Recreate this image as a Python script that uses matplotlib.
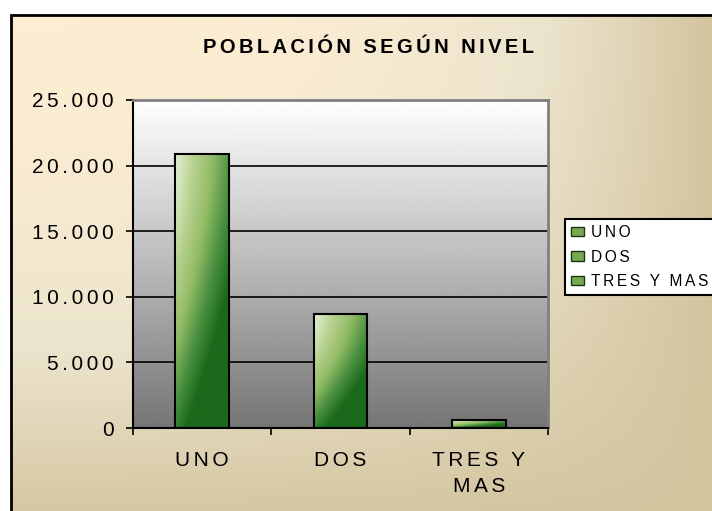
import numpy as np
import matplotlib
matplotlib.use("Agg")
import matplotlib.pyplot as plt
from matplotlib.colors import LinearSegmentedColormap
from matplotlib.patches import Rectangle, Patch
from matplotlib.ticker import FuncFormatter, FixedLocator

categories = ["UNO", "DOS", "TRES Y\nMAS"]
legend_labels = ["UNO", "DOS", "TRES Y MAS"]
values = [20900, 8700, 600]
y_ticks = [0, 5000, 10000, 15000, 20000, 25000]
title = "POBLACIÓN SEGÚN NIVEL"

plt.rcParams['font.family'] = ['Liberation Sans', 'DejaVu Sans']

GAP = '\u2006'


def spaced(s):
    # wide letter spacing like the original chart
    return '\n'.join(GAP.join(line) for line in s.split('\n'))


W, H = 712, 511
fig = plt.figure(figsize=(W / 100, H / 100), dpi=100, facecolor='white')

# background panel with cream -> tan gradient
bg = fig.add_axes([11 / W, 0, 1 - 11 / W, 1 - 15 / H])
bg.set_axis_off()
xx = np.linspace(0, 1, 300)[None, :]
yy = np.linspace(0, 1, 200)[:, None]
t_bg = 1 - (1 - xx ** 2.5) * (1 - 0.95 * yy ** 1.6)
bg_cmap = LinearSegmentedColormap.from_list('bg', ['#fdeed3', '#ece4cd', '#d3c49e'])
bg.imshow(bg_cmap(np.clip(t_bg, 0, 1)), extent=(0, 1, 0, 1), aspect='auto', origin='upper')
bg.set_xlim(0, 1)
bg.set_ylim(0, 1)
fig.patches.append(Rectangle((11 / W, -0.05), 1.2, 1 - 15 / H + 0.05, transform=fig.transFigure,
                             fill=False, edgecolor='black', linewidth=2, zorder=5))

ax = fig.add_axes([133 / W, 1 - 428 / H, (548 - 133) / W, (428 - 100) / H])
ax.set_axisbelow(True)

# plot area gradient white -> gray
g = np.linspace(1.0, 0.46, 200)[:, None] * np.ones((1, 2))
ax.imshow(g, cmap='gray', vmin=0, vmax=1, extent=(-0.5, 2.5, 0, 25000),
          aspect='auto', origin='upper', zorder=0.1)

x = np.arange(len(categories))
bars = ax.bar(x, values, width=0.39, color='none', edgecolor='black', linewidth=1.5, zorder=3)

u = np.linspace(0, 1, 80)[None, :]
v = np.linspace(0, 1, 120)[:, None]
t_bar = np.clip(0.72 * u + 0.85 * v ** 1.5, 0, 1)
green = LinearSegmentedColormap.from_list('g', ['#e3efd3', '#b7d28f', '#93bb66', '#4a9140', '#1b6a1b'])
for b in bars:
    x0, y0 = b.get_x(), b.get_y()
    im = ax.imshow(green(t_bar), extent=(x0, x0 + b.get_width(), y0, y0 + b.get_height()),
                   aspect='auto', origin='upper', zorder=2)
    im.set_clip_path(b)

ax.set_xlim(-0.5, 2.5)
ax.set_ylim(0, 25000)

ax.yaxis.set_major_locator(FixedLocator(y_ticks))
ax.yaxis.set_major_formatter(FuncFormatter(lambda val, p: spaced(f'{int(val):,}'.replace(',', '.'))))
ax.yaxis.grid(True, color='black', linewidth=1.2)
ax.tick_params(axis='y', direction='out', length=5, width=1.2, pad=9, labelsize=15, colors='black')

ax.set_xticks([-0.5, 0.5, 1.5, 2.5])
ax.set_xticklabels([])
ax.set_xticks(x, [spaced(c) for c in categories], minor=True)
ax.tick_params(axis='x', which='major', direction='out', length=5, width=1.2)
ax.tick_params(axis='x', which='minor', length=0, pad=16.5, labelsize=15)
for lab in ax.get_xticklabels(minor=True):
    lab.set_linespacing(1.5)

for side in ['left', 'bottom']:
    ax.spines[side].set_color('black')
    ax.spines[side].set_linewidth(1.5)
for side in ['top', 'right']:
    ax.spines[side].set_color('#808080')
    ax.spines[side].set_linewidth(2)

fig.text(368 / W, 1 - 53 / H, spaced(title), ha='center', va='baseline',
         fontsize=14.5, fontweight='bold')

handles = [Patch(facecolor='#78a852', edgecolor='#1a3a10', linewidth=1) for _ in legend_labels]
leg = fig.legend(handles, [spaced(l) for l in legend_labels], loc='upper left',
                 bbox_to_anchor=(565 / W, 1 - 219 / H), bbox_transform=fig.transFigure,
                 fontsize=11.2, frameon=True, fancybox=False, borderpad=0.4,
                 handlelength=0.8, handleheight=0.55, handletextpad=0.45,
                 labelspacing=0.6, borderaxespad=0)
leg.get_frame().set_edgecolor('black')
leg.get_frame().set_linewidth(1.5)
leg.get_frame().set_facecolor('white')
leg.get_frame().set_alpha(1)

fig.savefig('out.png', dpi=100)
